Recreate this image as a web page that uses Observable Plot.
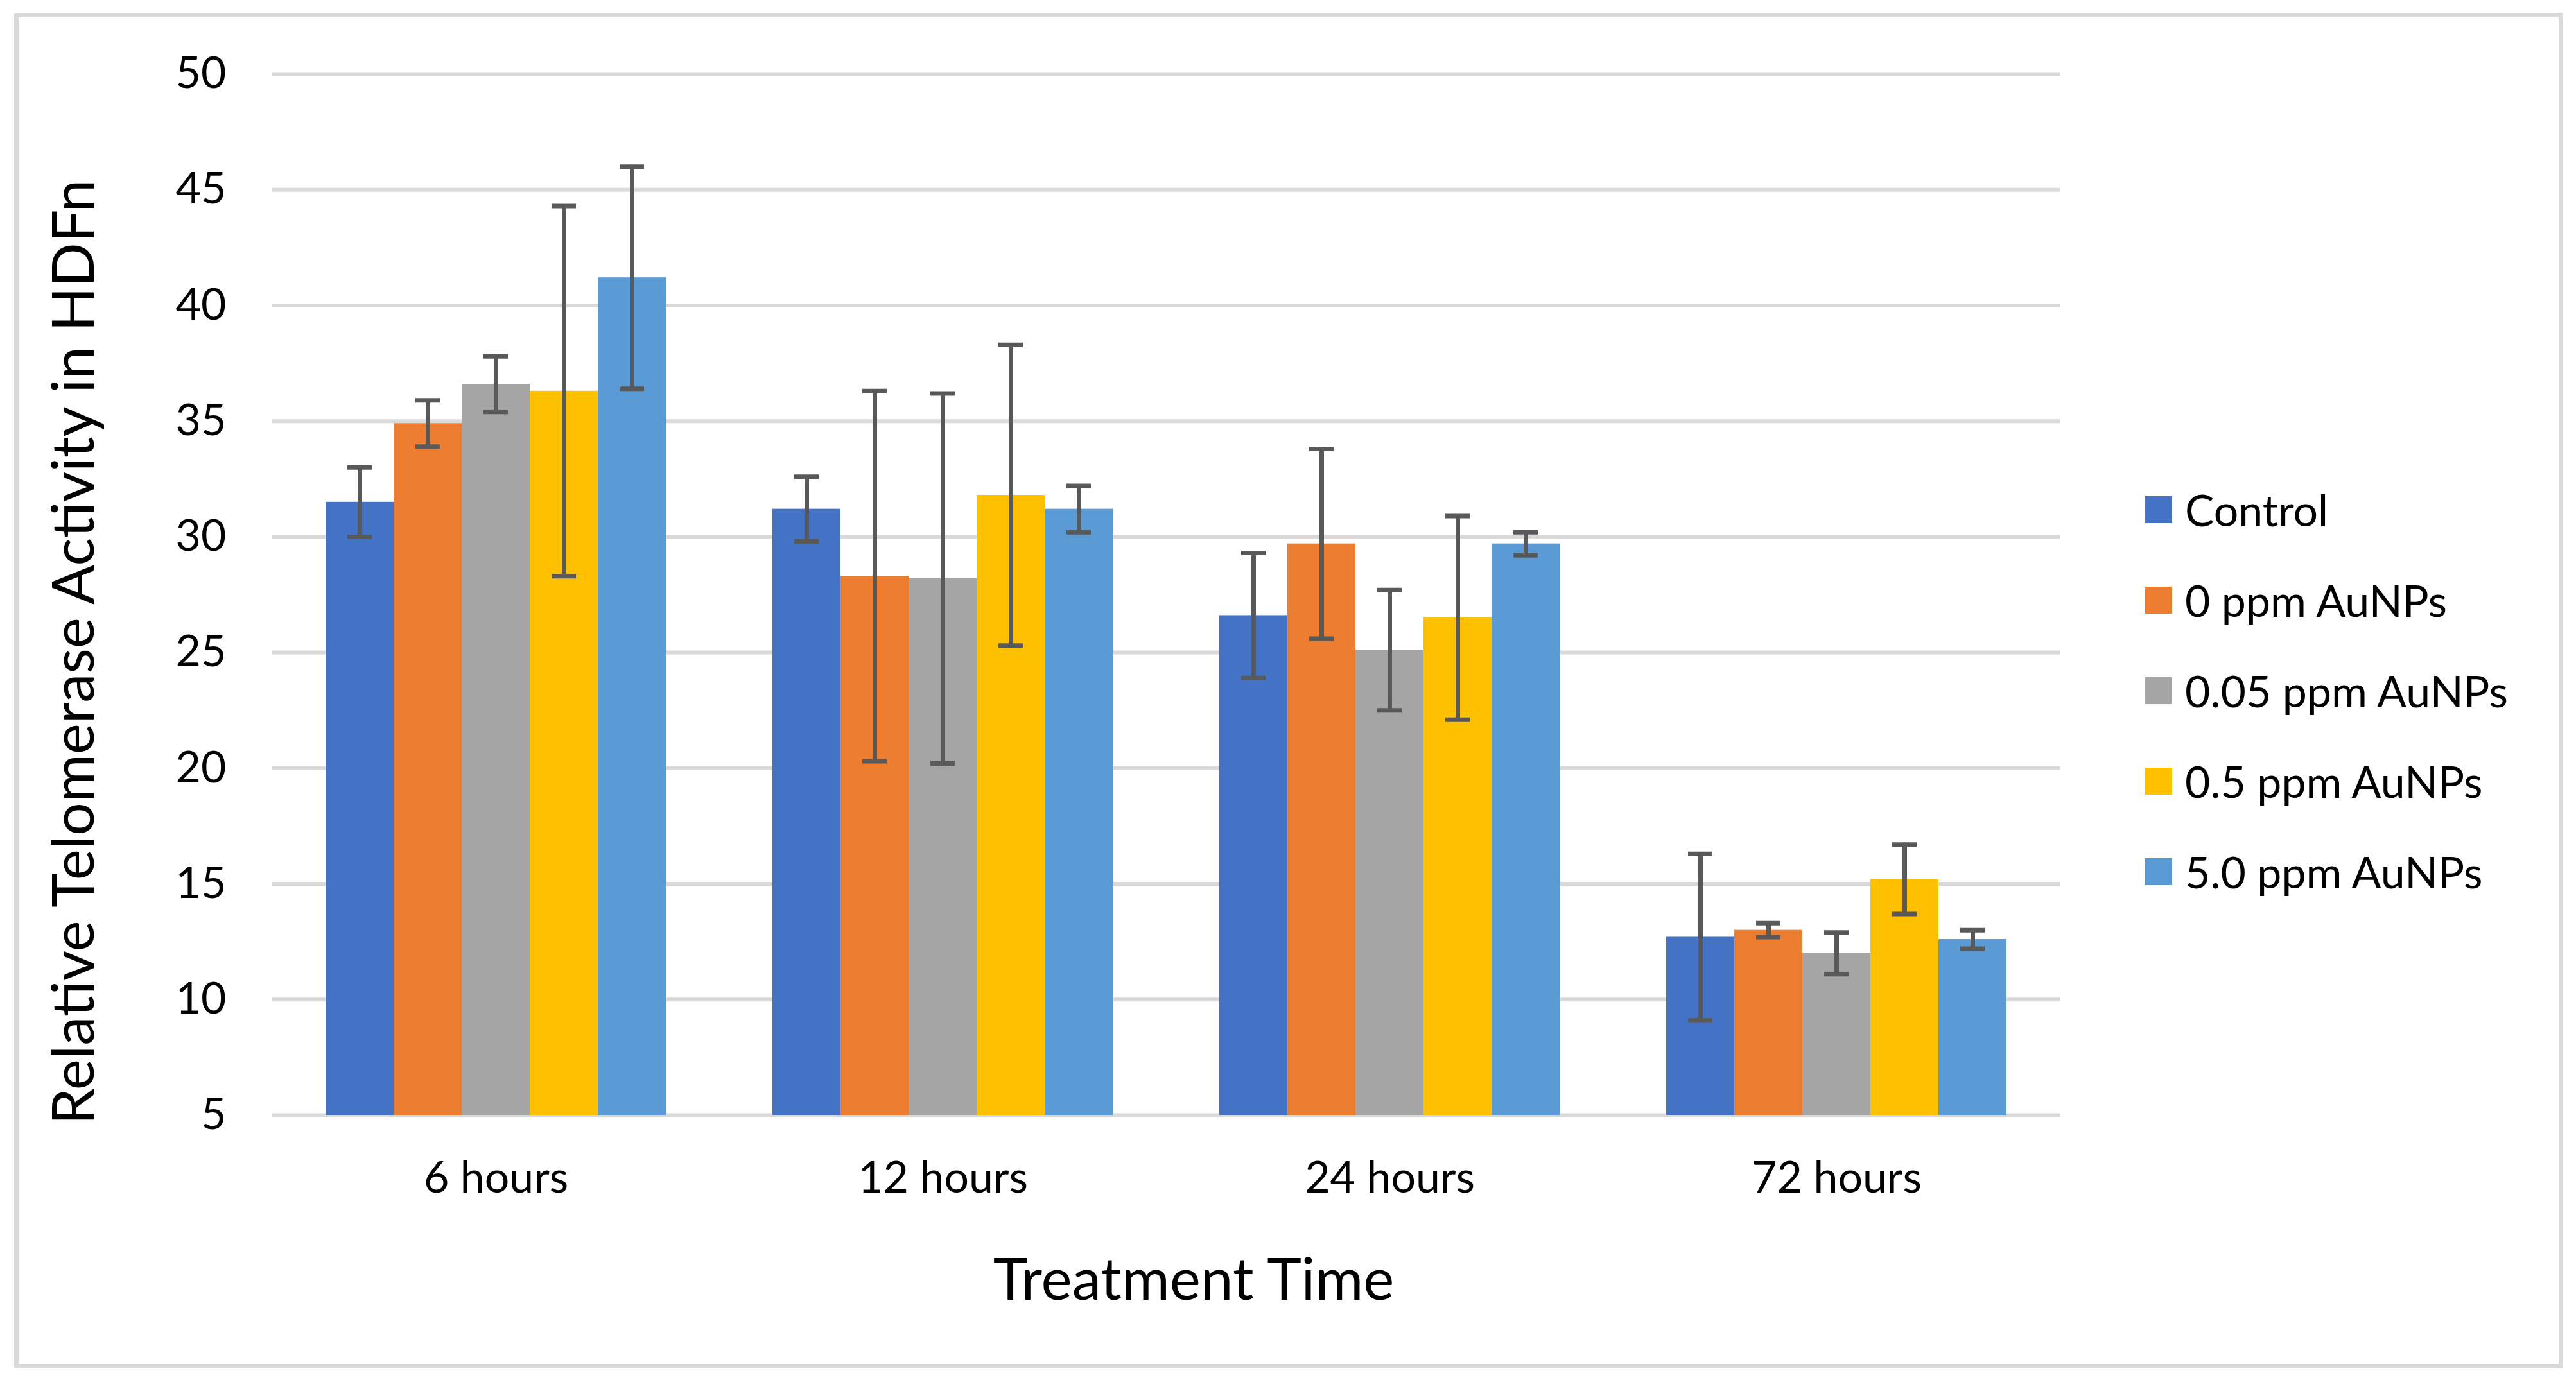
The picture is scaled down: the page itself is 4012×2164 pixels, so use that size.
<!DOCTYPE html>
<html>
<head>
<meta charset="utf-8">
<script src="https://cdn.jsdelivr.net/npm/d3@7"></script>
<script src="https://cdn.jsdelivr.net/npm/@observablehq/plot@0.6"></script>
<style>
  html, body { margin: 0; padding: 0; background: #fff; }
  #wrap { position: relative; width: 4012px; height: 2164px; overflow: hidden; font-family: Lato, "Open Sans", sans-serif; color: #000; }
  #chart svg { position: absolute; left: 0; top: 0; max-width: none; }
  #border { position: absolute; left: 22px; top: 20px; width: 3956px; height: 2098px; border: 7px solid #d9d9d9; border-radius: 3px; pointer-events: none; }
  .ytitle { position: absolute; left: 110px; top: 1016px; transform: translate(-50%, -50%) rotate(-90deg); font-size: 91px; line-height: 1; white-space: nowrap; }
  .xtitle { position: absolute; left: 1859px; top: 1989px; transform: translate(-50%, -50%); font-size: 91px; line-height: 1; white-space: nowrap; }
  #legend { position: absolute; left: 3341px; top: 723px; }
  .item { display: flex; align-items: center; height: 141px; font-size: 68px; white-space: nowrap; }
  .sw { width: 42px; height: 42px; margin-right: 20px; flex: none; }
</style>
</head>
<body>
<div id="wrap">
  <div id="chart"></div>
  <div class="ytitle">Relative Telomerase Activity in HDFn</div>
  <div class="xtitle">Treatment Time</div>
  <div id="legend"></div>
  <div id="border"></div>
</div>
<script>
const times = ["6 hours", "12 hours", "24 hours", "72 hours"];
const series = ["Control", "0 ppm AuNPs", "0.05 ppm AuNPs", "0.5 ppm AuNPs", "5.0 ppm AuNPs"];
const colors = ["#4472C4", "#ED7D31", "#A5A5A5", "#FFC000", "#5B9BD5"];
const yTicks = [5, 10, 15, 20, 25, 30, 35, 40, 45, 50];

const controlValues = [31.5, 31.2, 26.6, 12.7];
const controlErrors = [1.5, 1.4, 2.7, 3.6];
const ppm0Values = [34.9, 28.3, 29.7, 13.0];
const ppm0Errors = [1.0, 8.0, 4.1, 0.3];
const ppm005Values = [36.6, 28.2, 25.1, 12.0];
const ppm005Errors = [1.2, 8.0, 2.6, 0.9];
const ppm05Values = [36.3, 31.8, 26.5, 15.2];
const ppm05Errors = [8.0, 6.5, 4.4, 1.5];
const ppm5Values = [41.2, 31.2, 29.7, 12.6];
const ppm5Errors = [4.8, 1.0, 0.5, 0.4];

const valueSets = [controlValues, ppm0Values, ppm005Values, ppm05Values, ppm5Values];
const errorSets = [controlErrors, ppm0Errors, ppm005Errors, ppm05Errors, ppm5Errors];

const rows = [];
times.forEach((t, i) => {
  series.forEach((s, j) => {
    rows.push({ time: t, series: s, value: valueSets[j][i], err: errorSets[j][i] });
  });
});

const errColor = "#595959";
const errWidth = 7;

const chart = Plot.plot({
  width: 4012,
  height: 2164,
  marginLeft: 422,
  marginRight: 803,
  marginTop: 115,
  marginBottom: 427,
  style: { fontFamily: "Lato, 'Open Sans', sans-serif", fontSize: "68px", color: "#000", background: "#fff" },
  fx: { domain: times, padding: 0, label: null },
  x: { domain: series, paddingInner: 0, paddingOuter: 0.77, axis: null },
  y: { domain: [5, 50], label: null },
  color: { domain: series, range: colors },
  marks: [
    Plot.gridY(yTicks, { stroke: "#d9d9d9", strokeOpacity: 1, strokeWidth: 6 }),
    Plot.axisY(yTicks, { tickSize: 0, tickPadding: 72, label: null }),
    Plot.axisFx({ anchor: "bottom", tickSize: 0, tickPadding: 72, label: null }),
    Plot.barY(rows, { fx: "time", x: "series", y1: 5, y2: "value", fill: "series" }),
    Plot.ruleX(rows, { fx: "time", x: "series", y1: d => d.value - d.err, y2: d => d.value + d.err, stroke: errColor, strokeWidth: errWidth }),
    Plot.tickY(rows, { fx: "time", x: "series", y: d => d.value + d.err, stroke: errColor, strokeWidth: errWidth, insetLeft: 34, insetRight: 34 }),
    Plot.tickY(rows, { fx: "time", x: "series", y: d => d.value - d.err, stroke: errColor, strokeWidth: errWidth, insetLeft: 34, insetRight: 34 })
  ]
});
document.getElementById("chart").appendChild(chart);

const legend = d3.select("#legend");
series.forEach((s, j) => {
  const item = legend.append("div").attr("class", "item");
  item.append("div").attr("class", "sw").style("background", colors[j]);
  item.append("span").text(s);
});
</script>
</body>
</html>
